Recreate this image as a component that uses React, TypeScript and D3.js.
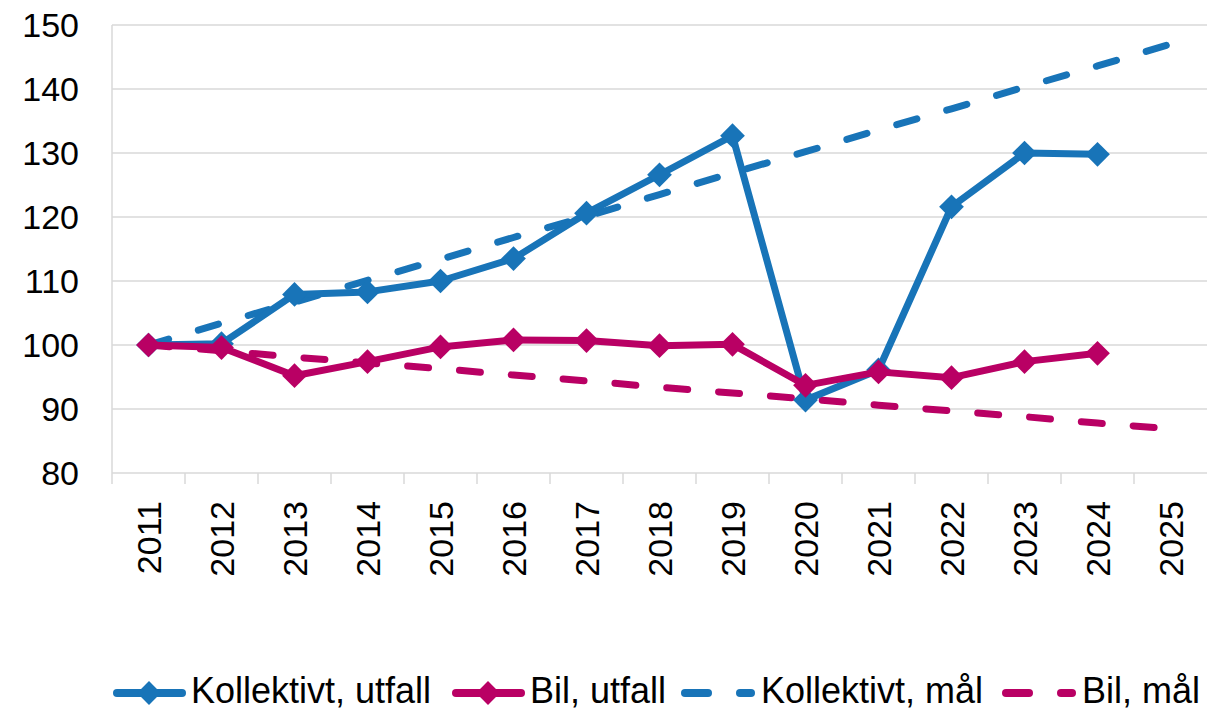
import React, { useEffect, useRef } from 'react';
import * as d3 from 'd3';

const years = ['2011', '2012', '2013', '2014', '2015', '2016', '2017', '2018', '2019', '2020', '2021', '2022', '2023', '2024', '2025'];
const kollektivtUtfall = [100, 100.2, 107.9, 108.3, 110.0, 113.5, 120.6, 126.6, 132.7, 91.4, 96.1, 121.6, 130.0, 129.8];
const bilUtfall = [100, 99.6, 95.2, 97.4, 99.7, 100.8, 100.7, 99.9, 100.1, 93.7, 95.8, 94.9, 97.4, 98.7];
const kollektivtMal = [100, 103.4, 106.7, 110.1, 113.4, 116.8, 120.1, 123.5, 126.9, 130.2, 133.6, 136.9, 140.3, 143.6, 147.0];
const bilMal = [100, 99.1, 98.1, 97.2, 96.3, 95.3, 94.4, 93.4, 92.5, 91.6, 90.6, 89.7, 88.8, 87.8, 86.9];
const yTicks = [80, 90, 100, 110, 120, 130, 140, 150];

const BLUE = '#1874b8';
const RED = '#b90064';
const FONT = 'Liberation Sans, Arial, sans-serif';

export default function App() {
  const svgRef = useRef<SVGSVGElement>(null);

  useEffect(() => {
    const width = 1207;
    const height = 713;
    const svg = d3.select(svgRef.current);
    svg.selectAll('*').remove();
    svg.attr('width', width).attr('height', height);

    const left = 112;
    const right = 1207;
    const top = 25;
    const bottom = 473;

    const x = d3.scaleBand().domain(years).range([left, right]);
    const y = d3.scaleLinear().domain([80, 150]).range([bottom, top]);
    const cx = (i: number) => (x(years[i]) as number) + x.bandwidth() / 2;

    // gridlines
    svg.append('g')
      .selectAll('line')
      .data(yTicks)
      .enter()
      .append('line')
      .attr('x1', left)
      .attr('x2', right)
      .attr('y1', d => y(d))
      .attr('y2', d => y(d))
      .attr('stroke', '#d9d9d9')
      .attr('stroke-width', 1.5);

    svg.append('line')
      .attr('x1', left).attr('x2', left)
      .attr('y1', top).attr('y2', bottom + 11)
      .attr('stroke', '#d9d9d9').attr('stroke-width', 1.5);

    // x ticks
    svg.append('g')
      .selectAll('line')
      .data(years.slice(1))
      .enter()
      .append('line')
      .attr('x1', d => x(d) as number)
      .attr('x2', d => x(d) as number)
      .attr('y1', bottom)
      .attr('y2', bottom + 11)
      .attr('stroke', '#d9d9d9')
      .attr('stroke-width', 1.5);

    // y labels
    svg.append('g')
      .selectAll('text')
      .data(yTicks)
      .enter()
      .append('text')
      .attr('x', 79)
      .attr('y', d => y(d))
      .attr('dy', '0.36em')
      .attr('text-anchor', 'end')
      .style('font-family', FONT)
      .style('font-size', '34px')
      .text(d => d);

    // x labels rotated
    svg.append('g')
      .selectAll('text')
      .data(years)
      .enter()
      .append('text')
      .attr('transform', (d, i) => `translate(${cx(i) + 12.5},${bottom + 28}) rotate(-90)`)
      .attr('text-anchor', 'end')
      .style('font-family', FONT)
      .style('font-size', '34px')
      .text(d => d);

    const line = d3.line<number>()
      .x((d, i) => cx(i))
      .y(d => y(d));

    const dashed = [
      { data: bilMal, color: RED },
      { data: kollektivtMal, color: BLUE },
    ];
    dashed.forEach(s => {
      svg.append('path')
        .datum(s.data)
        .attr('d', line)
        .attr('fill', 'none')
        .attr('stroke', s.color)
        .attr('stroke-width', 7)
        .attr('stroke-linecap', 'round')
        .attr('stroke-dasharray', '21 31');
    });

    const diamond = d3.symbol().type(d3.symbolDiamond2).size(390);

    const solid = [
      { data: kollektivtUtfall, color: BLUE },
      { data: bilUtfall, color: RED },
    ];
    solid.forEach(s => {
      svg.append('path')
        .datum(s.data)
        .attr('d', line)
        .attr('fill', 'none')
        .attr('stroke', s.color)
        .attr('stroke-width', 7)
        .attr('stroke-linejoin', 'round');
      svg.append('g')
        .selectAll('path')
        .data(s.data)
        .enter()
        .append('path')
        .attr('d', diamond)
        .attr('transform', (d, i) => `translate(${cx(i)},${y(d)})`)
        .attr('fill', s.color);
    });

    // legend
    const ly = 693;
    const legendItems = [
      { label: 'Kollektivt, utfall', color: BLUE, x0: 113, tx: 191, dash: false },
      { label: 'Bil, utfall', color: RED, x0: 452, tx: 530, dash: false },
      { label: 'Kollektivt, mål', color: BLUE, x0: 681, tx: 761, dash: true },
      { label: 'Bil, mål', color: RED, x0: 1002, tx: 1082, dash: true },
    ];
    legendItems.forEach(it => {
      const g = svg.append('g');
      if (it.dash) {
        g.append('line')
          .attr('x1', it.x0 + 4).attr('x2', it.x0 + 27)
          .attr('y1', ly).attr('y2', ly)
          .attr('stroke', it.color).attr('stroke-width', 8).attr('stroke-linecap', 'round');
        g.append('line')
          .attr('x1', it.x0 + 59).attr('x2', it.x0 + 70)
          .attr('y1', ly).attr('y2', ly)
          .attr('stroke', it.color).attr('stroke-width', 8).attr('stroke-linecap', 'round');
      } else {
        g.append('line')
          .attr('x1', it.x0 + 4).attr('x2', it.x0 + 69)
          .attr('y1', ly).attr('y2', ly)
          .attr('stroke', it.color).attr('stroke-width', 8).attr('stroke-linecap', 'round');
        g.append('path')
          .attr('d', d3.symbol().type(d3.symbolDiamond2).size(360)())
          .attr('transform', `translate(${it.x0 + 36},${ly})`)
          .attr('fill', it.color);
      }
      g.append('text')
        .attr('x', it.tx)
        .attr('y', 703)
        .style('font-family', FONT)
        .style('font-size', '36px')
        .text(it.label);
    });
  }, []);

  return <svg ref={svgRef} style={{ position: 'absolute', left: 0, top: 0 }}></svg>;
}
